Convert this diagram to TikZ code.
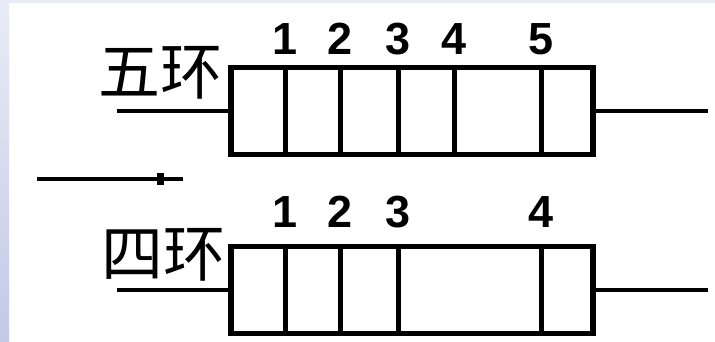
\documentclass[tikz,border=0pt]{standalone}
\usepackage{fontspec}
\newfontfamily\cjk{Noto Sans CJK SC}
\newfontfamily\numfont{Liberation Sans}
\usepackage{tikz}
\usetikzlibrary{positioning,calc}

\definecolor{frametop}{HTML}{E9ECF6}
\definecolor{framelow}{HTML}{C3C9E7}

\begin{document}
\begin{tikzpicture}[x=1pt, y=-1pt, every node/.style={inner sep=0pt, outer sep=0pt},
  body/.style={draw, line width=5.5pt, minimum width=362pt, minimum height=87pt},
  lead/.style={line width=4.5pt},
  band/.style={line width=5pt},
  digit/.style={font=\numfont\bfseries\fontsize{45}{45}\selectfont, anchor=base},
  tag/.style={font=\cjk\fontsize{62}{62}\selectfont, anchor=base}]
  \useasboundingbox (0,0) rectangle (715,342);
  % slide background with its pale frame
  \fill[white] (0,0) rectangle (715,342);
  \fill[frametop] (0,0) rectangle (715,3);
  \shade[top color=frametop, bottom color=framelow] (0,0) rectangle (9,342);
  % five-band resistor
  \node[body] (five) at (412,111) {};
  \coordinate (fiveL) at (117,111);
  \coordinate (fiveR) at (708,111);
  \draw[lead] (fiveL) -- (five.west);
  \draw[lead] (five.east) -- (fiveR);
  \foreach \bx/\k in {285/1, 340/2, 398/3, 454/4, 541/5} {
    \draw[band] (\bx,67) -- (\bx,155);
    \node[digit] (fiven\k) at (\bx,55) {\k};
  }
  \node[tag] (fivetag) at (160,95) {五环};
  % direction arrow between the two
  \coordinate (arrA) at (37,179);
  \coordinate (arrB) at (183,179);
  \draw[line width=4.5pt] (arrA) -- (arrB);
  \fill (157,173) rectangle (164,185);
  % four-band resistor
  \node[body] (four) at (412,290) {};
  \coordinate (fourL) at (117,290);
  \coordinate (fourR) at (708,290);
  \draw[lead] (fourL) -- (four.west);
  \draw[lead] (four.east) -- (fourR);
  \foreach \bx/\k in {285/1, 340/2, 398/3, 541/4} {
    \draw[band] (\bx,247) -- (\bx,333);
    \node[digit] (fourn\k) at (\bx,227) {\k};
  }
  \node[tag] (fourtag) at (163,276) {四环};
\end{tikzpicture}
\end{document}
